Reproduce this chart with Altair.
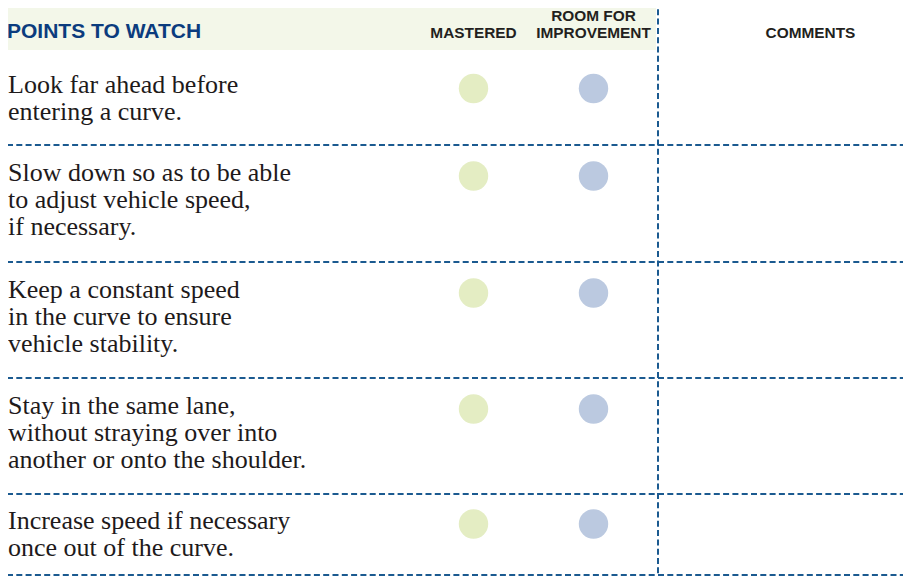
import math
import altair as alt
import pandas as pd

# ---------------- data ----------------
header_title = "POINTS TO WATCH"
column_header_lines = [["MASTERED"], ["ROOM FOR", "IMPROVEMENT"], ["COMMENTS"]]
column_keys = ["MASTERED", "ROOM FOR IMPROVEMENT", "COMMENTS"]
points = [
    ["Look far ahead before", "entering a curve."],
    ["Slow down so as to be able", "to adjust vehicle speed,", "if necessary."],
    ["Keep a constant speed", "in the curve to ensure", "vehicle stability."],
    ["Stay in the same lane,", "without straying over into", "another or onto the shoulder."],
    ["Increase speed if necessary", "once out of the curve."],
]
rating_columns = ["MASTERED", "ROOM FOR IMPROVEMENT"]
rating_colors = ["#e4edc3", "#bbc9e0"]

# ---------------- layout (page pixel space) ----------------
W, H = 895, 568            # svg size; page has an 8px margin
OFF = 8
band_x, band_x2, band_y, band_y2 = 0, 656, 3, 50
sep_y = [145, 262, 378, 494, 575]
vline_x = 658
col_x = {"MASTERED": 473.5, "ROOM FOR IMPROVEMENT": 593.5, "COMMENTS": 810.5}
circle_y = [88.5, 176, 293, 409, 524]
line_step = 27
text_x = 8
DASH = [6, 3.3]
LINE_COLOR = "#1b5a90"

xs = alt.Scale(domain=[OFF, OFF + W], range=[0, W])
ys = alt.Scale(domain=[OFF, OFF + H], range=[0, H])
X = lambda f: alt.X(f, type="quantitative", scale=xs, axis=None)
Y = lambda f: alt.Y(f, type="quantitative", scale=ys, axis=None)

# band
band_df = pd.DataFrame([{"x": band_x, "x2": band_x2, "y": band_y, "y2": band_y2}])
band = alt.Chart(band_df).mark_rect(color="#f3f7e9").encode(
    x=X("x"), x2="x2", y=Y("y"), y2="y2")

# title
title_df = pd.DataFrame([{"x": 7, "y": 37.5, "t": header_title}])
title = alt.Chart(title_df).mark_text(
    align="left", baseline="alphabetic", font="Liberation Sans", fontWeight="bold",
    fontSize=21, color="#0b3c7e").encode(x=X("x"), y=Y("y"), text="t:N")

# column headers
hdr_rows = []
for key, lines in zip(column_keys, column_header_lines):
    n = len(lines)
    for j, ln in enumerate(lines):
        hdr_rows.append({"x": col_x[key], "y": 38.3 - 17 * (n - 1 - j), "t": ln})
hdr = alt.Chart(pd.DataFrame(hdr_rows)).mark_text(
    align="center", baseline="alphabetic", font="Liberation Sans", fontWeight="bold",
    fontSize=15.4, color="#231f20").encode(x=X("x"), y=Y("y"), text="t:N")

# row texts
txt_rows = []
for i, lines in enumerate(points):
    for j, ln in enumerate(lines):
        txt_rows.append({"x": text_x, "y": circle_y[i] + 4.5 + line_step * j, "t": ln})
txt = alt.Chart(pd.DataFrame(txt_rows)).mark_text(
    align="left", baseline="alphabetic", font="Liberation Serif",
    fontSize=26, color="#1e1a1b").encode(x=X("x"), y=Y("y"), text="t:N")

# circles
circ_rows = []
for i in range(len(points)):
    for c in rating_columns:
        circ_rows.append({"x": col_x[c], "y": circle_y[i], "col": c})
r = 16.6
circ = alt.Chart(pd.DataFrame(circ_rows)).mark_circle(
    size=math.pi * r * r, opacity=1).encode(
    x=X("x"), y=Y("y"),
    color=alt.Color("col:N", scale=alt.Scale(domain=rating_columns, range=rating_colors), legend=None))

# horizontal dashed separators
h_df = pd.DataFrame([{"x": 7, "x2": OFF + W, "y": y} for y in sep_y])
hl = alt.Chart(h_df).mark_rule(
    color=LINE_COLOR, strokeWidth=2, strokeDash=DASH).encode(
    x=X("x"), x2="x2", y=Y("y"))

# vertical dashed separator
v_df = pd.DataFrame([{"x": vline_x, "y": 0, "y2": OFF + H}])
vl = alt.Chart(v_df).mark_rule(
    color=LINE_COLOR, strokeWidth=2, strokeDash=DASH).encode(
    x=X("x"), y=Y("y"), y2="y2")

chart = alt.layer(band, hl, vl, circ, title, hdr, txt).properties(
    width=W, height=H, padding=0, autosize="none", background="white"
).configure_view(stroke=None)

chart.save("out.html", embed_options={"renderer": "svg", "actions": False})
